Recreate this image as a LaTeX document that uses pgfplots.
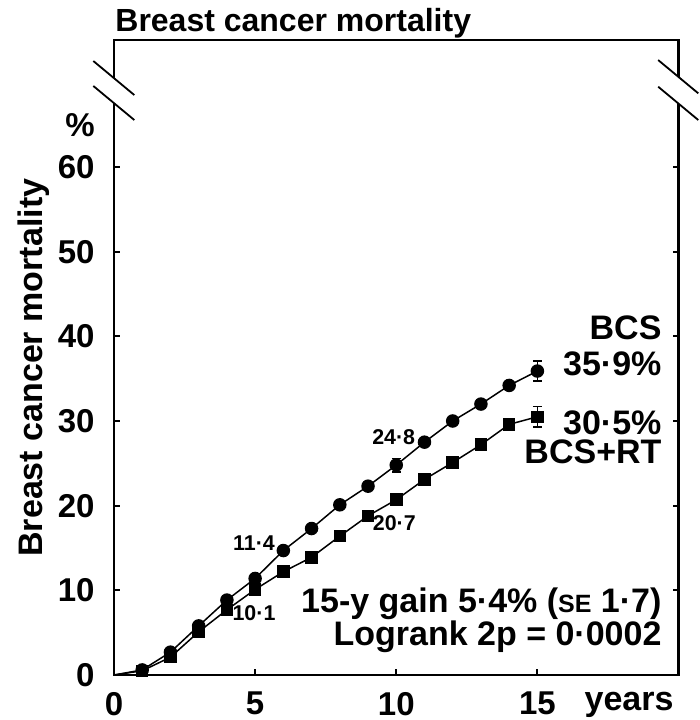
\documentclass[border=0pt]{standalone}
\usepackage{fontspec}
\setmainfont{Liberation Sans}
\usepackage{pgfplots}
\pgfplotsset{compat=1.18}
\newcommand{\fs}[1]{\fontsize{#1}{#1}\selectfont\bfseries}
\begin{document}
\begin{tikzpicture}
\begin{axis}[
 scale only axis, width=282.25pt, height=317.5pt,
 xmin=0, xmax=20, ymin=0, ymax=75,
 axis line style={line width=1.2pt},
 xtick={0,5,10,15}, ytick={0,10,...,60},
 tick align=inside, xtick pos=left, ytick pos=both, yticklabel pos=left,
 major tick length=3pt, tick style={line width=1pt, black},
 /pgf/number format/assume math mode=true,
 ticklabel style={font=\fs{16.5}, inner sep=0pt},
 xticklabel style={yshift=-8.3pt},
 yticklabel style={xshift=-9.5pt},
 clip=false,
]
\addplot[draw=none, mark=none, forget plot,
  error bars/.cd, y dir=both, y explicit,
  error bar style={draw=black, line width=0.75pt},
  error mark options={draw=black, rotate=90, mark size=2.25pt, line width=0.75pt}]
  coordinates {(10,24.8) +- (0,0.8) (15,35.9) +- (0,1.2) (10,20.7) +- (0,0.7) (15,30.5) +- (0,1.2)};
\addplot[black, line width=0.75pt, mark=*, mark size=3pt,
  mark indices={2,3,4,5,6,7,8,9,10,11,12,13,14,15,16}]
  coordinates {(0,0)(1,0.6)(2,2.7)(3,5.8)(4,8.85)(5,11.4)(6,14.7)(7,17.3)(8,20.1)(9,22.3)(10,24.8)(11,27.5)(12,30.0)(13,32.0)(14,34.2)(15,35.9)};
\addplot[black, line width=0.75pt, mark=square*, mark size=2.75pt,
  mark indices={2,3,4,5,6,7,8,9,10,11,12,13,14,15,16}]
  coordinates {(0,0)(1,0.5)(2,2.1)(3,5.1)(4,7.7)(5,10.1)(6,12.2)(7,13.9)(8,16.4)(9,18.8)(10,20.7)(11,23.1)(12,25.1)(13,27.2)(14,29.6)(15,30.5)};

% data labels
\node[inner sep=0, font=\fs{10.7}] at (axis cs:4.96,15.6) {11·4};
\node[inner sep=0, font=\fs{10.7}] at (axis cs:9.91,28.1) {24·8};
\node[inner sep=0, font=\fs{10.7}] at (axis cs:9.93,17.9) {20·7};
\node[inner sep=0, font=\fs{10.7}] at (axis cs:4.96,7.3) {10·1};

% right labels
\node[anchor=base east, inner sep=0, font=\fs{17}] at (axis cs:19.41,39.57) {BCS};
\node[anchor=base east, inner sep=0, font=\fs{17}] at (axis cs:19.41,35.43) {35·9\%};
\node[anchor=base east, inner sep=0, font=\fs{17}] at (axis cs:19.41,28.35) {30·5\%};
\node[anchor=base east, inner sep=0, font=\fs{17}] at (axis cs:19.41,25.0) {BCS+RT};
\node[anchor=base east, inner sep=0, font=\fs{17}] at (axis cs:19.41,7.36) {15-y gain 5·4\% ({\fs{12.5}SE} 1·7)};
\node[anchor=base east, inner sep=0, font=\fs{17}] at (axis cs:19.41,3.54) {Logrank 2p = 0·0002};

% axis texts
\node[anchor=base, rotate=90, inner sep=0, font=\fs{17}] at (axis cs:-2.52,36.3) {Breast cancer mortality};
\path (axis cs:0,64.96) ++(-9.5pt,0) node[anchor=east, inner sep=0, font=\fs{16.5}] {\%};
\path (axis cs:18.25,0) ++(0,-8.3pt) node[anchor=north, inner sep=0, font=\fs{17}] {years};
\path (axis cs:0,75) ++(0.5pt,4.15pt) node[anchor=base west, inner sep=0, font=\fs{16}] {Breast cancer mortality};

% break mark coordinates
\coordinate (La1) at (axis cs:-0.733,72.52);
\coordinate (Lb1) at (axis cs:0.719,68.5);
\coordinate (La2) at (axis cs:-0.733,69.57);
\coordinate (Lb2) at (axis cs:0.719,65.55);
\coordinate (LG1) at (axis cs:-0.15,70.91);
\coordinate (LG2) at (axis cs:0.15,70.08);
\coordinate (LG3) at (axis cs:0.15,67.13);
\coordinate (LG4) at (axis cs:-0.15,67.96);
\coordinate (Ra1) at (axis cs:19.28,72.63);
\coordinate (Rb1) at (axis cs:20.70,68.70);
\coordinate (Ra2) at (axis cs:19.28,69.48);
\coordinate (Rb2) at (axis cs:20.70,65.55);
\coordinate (RG1) at (axis cs:19.85,71.05);
\coordinate (RG2) at (axis cs:20.15,70.22);
\coordinate (RG3) at (axis cs:20.15,67.07);
\coordinate (RG4) at (axis cs:19.85,67.90);
\end{axis}
\fill[white] (LG1) -- (LG2) -- (LG3) -- (LG4) -- cycle;
\fill[white] (RG1) -- (RG2) -- (RG3) -- (RG4) -- cycle;
\draw[line width=0.9pt] (La1) -- (Lb1) (La2) -- (Lb2) (Ra1) -- (Rb1) (Ra2) -- (Rb2);
\pgfresetboundingbox
\path[use as bounding box] ([xshift=-57pt,yshift=-22.5pt]current axis.south west) rectangle ([xshift=10.25pt,yshift=20pt]current axis.north east);
\end{tikzpicture}
\end{document}
